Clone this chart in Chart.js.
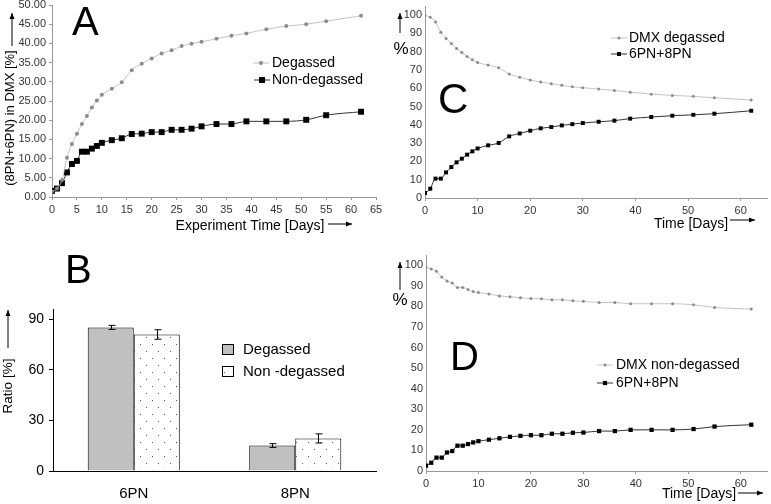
<!doctype html>
<html>
  <head>
    <script src="https://cdn.jsdelivr.net/npm/chart.js@4/dist/chart.umd.min.js"></script>
    <style>
      body { margin: 0; background: #fff; }
      canvas { position: absolute; }
    </style>
    <title>DMX degassing</title>
  </head>
  <body>
    <canvas id="chartA" width="390" height="250" style="left:0;top:0"></canvas>
    <canvas id="chartB" width="390" height="254" style="left:0;top:250px"></canvas>
    <canvas id="chartC" width="381" height="250" style="left:390px;top:0"></canvas>
    <canvas id="chartD" width="381" height="254" style="left:390px;top:250px"></canvas>

    <script>
      const days = [0, 1, 2, 3, 4, 5, 6, 7, 8, 9, 10, 12, 14, 16, 18, 20, 22, 24, 26, 28, 30, 33, 36, 39, 43, 47, 51, 55, 62]

      // panel A, (8PN+6PN) in DMX [%]
      const degassedA = [1.4, 2.2, 4.4, 10.2, 13.8, 16.5, 19.0, 21.1, 23.3, 25.1, 26.6, 28.2, 29.9, 33.0, 34.7, 36.1, 37.4, 38.2, 39.3, 39.9, 40.4, 41.2, 42.0, 42.6, 43.7, 44.5, 45.0, 45.8, 47.2]
      const nonDegassedA = [1.6, 2.2, 3.6, 6.4, 8.6, 9.4, 11.8, 11.8, 12.6, 13.3, 14.1, 14.8, 15.3, 16.4, 16.5, 16.9, 16.9, 17.5, 17.5, 17.8, 18.4, 19.0, 19.0, 19.7, 19.7, 19.7, 20.1, 21.3, 22.2]

      // panel C, degassed
      const dmxDegassed = [99.8, 98.9, 96.2, 90.7, 87.2, 84.5, 81.8, 79.6, 77.4, 75.6, 74.1, 72.7, 71.2, 67.8, 66.1, 64.5, 63.4, 62.5, 61.6, 60.8, 60.3, 59.6, 58.8, 57.9, 56.8, 56.1, 55.6, 54.8, 53.6]
      const pnDegassed = [2.7, 5.1, 10.6, 10.6, 14.0, 16.9, 19.5, 21.5, 23.7, 25.5, 27.1, 28.8, 30.1, 33.7, 35.3, 36.8, 38.1, 38.8, 39.7, 40.4, 41.0, 41.7, 42.3, 43.4, 44.3, 45.0, 45.5, 46.1, 47.7]

      // panel D, non-degassed
      const dmxNonDegassed = [98.9, 98.2, 97.1, 94.3, 92.4, 91.4, 89.2, 89.2, 88.2, 87.2, 86.8, 86.1, 85.1, 84.7, 84.2, 83.8, 83.7, 83.2, 83.2, 82.7, 82.5, 81.9, 81.9, 81.3, 81.3, 81.3, 80.8, 79.5, 78.7]
      const pnNonDegassed = [2.6, 4.0, 6.5, 6.5, 9.0, 9.7, 12.3, 12.3, 13.1, 13.9, 14.5, 15.2, 15.9, 16.6, 17.1, 17.4, 17.4, 18.1, 18.1, 18.6, 18.7, 19.4, 19.4, 20.0, 20.0, 20.0, 20.4, 21.6, 22.5]

      // panel B, ratio [%]
      const isomers = ['6PN', '8PN']
      const ratioDegassed = [85.1, 15.1]
      const ratioNonDegassed = [80.9, 19.3]
      const errDegassed = [1.2, 1.1]
      const errNonDegassed = [2.8, 2.7]

      const FONT = "'Liberation Sans', Arial, sans-serif"

      const pts = ys => days.map((d, i) => ({ x: d, y: ys[i] }))

      // pin the plot area inside each canvas so the four panels line up
      const box = (left, top, right, bottom) => ({
        padding: { left: 0, top, right, bottom: 0 },
        yFit: s => { s.width = left; s.paddingTop = 0; s.paddingBottom = 0 },
        xFit: s => { s.height = bottom; s.paddingLeft = 0; s.paddingRight = 0 }
      })

      const greySeries = (label, ys, r) => ({
        label, data: pts(ys),
        borderColor: '#c4c4c4', borderWidth: 1,
        pointStyle: 'circle', pointRadius: r, pointBackgroundColor: '#8c8c8c', pointBorderWidth: 0,
        cubicInterpolationMode: 'monotone'
      })

      const blackSeries = (label, ys, r) => ({
        label, data: pts(ys),
        borderColor: '#333', borderWidth: 1,
        pointStyle: 'rect', pointRadius: r, pointBackgroundColor: '#000', pointBorderWidth: 0,
        cubicInterpolationMode: 'monotone'
      })

      const drawArrow = (ctx, x1, y1, x2, y2) => {
        ctx.beginPath()
        ctx.moveTo(x1, y1)
        ctx.lineTo(x2, y2)
        ctx.stroke()
        const a = Math.atan2(y2 - y1, x2 - x1)
        ctx.beginPath()
        ctx.moveTo(x2, y2)
        ctx.lineTo(x2 - 6 * Math.cos(a) + 2.5 * Math.sin(a), y2 - 6 * Math.sin(a) - 2.5 * Math.cos(a))
        ctx.lineTo(x2 - 6 * Math.cos(a) - 2.5 * Math.sin(a), y2 - 6 * Math.sin(a) + 2.5 * Math.cos(a))
        ctx.closePath()
        ctx.fill()
      }

      // panel letters, axis titles with arrows, hand placed legends
      const notes = items => ({
        id: 'notes',
        afterDraw: chart => {
          const ctx = chart.ctx
          ctx.save()
          ctx.fillStyle = '#000'
          ctx.strokeStyle = '#000'
          ctx.lineWidth = 1
          items.forEach(it => {
            if (it.arrow) return drawArrow(ctx, ...it.arrow)
            if (it.series !== undefined) {
              const ds = chart.data.datasets[it.series]
              ctx.save()
              ctx.strokeStyle = ds.borderColor
              ctx.beginPath()
              ctx.moveTo(it.x - 8, it.y)
              ctx.lineTo(it.x + 8, it.y)
              ctx.stroke()
              ctx.fillStyle = ds.pointBackgroundColor
              ctx.beginPath()
              if (ds.pointStyle === 'rect') {
                const s = ds.pointRadius * Math.SQRT1_2
                ctx.rect(it.x - s, it.y - s, 2 * s, 2 * s)
              } else {
                ctx.arc(it.x, it.y, ds.pointRadius, 0, 2 * Math.PI)
              }
              ctx.fill()
              ctx.restore()
              return
            }
            if (it.swatch !== undefined) {
              const ds = chart.data.datasets[it.swatch]
              ctx.save()
              ctx.fillStyle = ds.backgroundColor
              ctx.fillRect(it.x, it.y, 11, 10)
              ctx.strokeRect(it.x + 0.5, it.y + 0.5, 11, 10)
              ctx.restore()
              return
            }
            ctx.save()
            ctx.font = it.size + 'px ' + FONT
            ctx.textAlign = it.align || 'left'
            ctx.textBaseline = 'middle'
            ctx.translate(it.x, it.y)
            if (it.rot) ctx.rotate(it.rot)
            ctx.fillText(it.t, 0, 0)
            ctx.restore()
          })
          ctx.restore()
        }
      })

      const lineOptions = (fit, ymax, ystep, yfmt, tickLen) => ({
        responsive: false,
        animation: false,
        layout: { padding: fit.padding },
        plugins: { legend: { display: false }, tooltip: { enabled: false } },
        scales: {
          x: {
            type: 'linear', min: 0, max: 65,
            afterFit: fit.xFit,
            border: { color: '#999' },
            grid: { drawOnChartArea: false, tickLength: 3, color: '#999' },
            ticks: { stepSize: yfmt ? 5 : 10, includeBounds: false, autoSkip: false, maxRotation: 0, padding: 3, color: '#333', font: { family: FONT, size: 11 } }
          },
          y: {
            min: 0, max: ymax,
            afterFit: fit.yFit,
            border: { color: '#999' },
            grid: { drawOnChartArea: false, tickLength: tickLen, color: '#999' },
            ticks: {
              stepSize: ystep, includeBounds: false, autoSkip: false, padding: 3, color: '#333',
              font: { family: FONT, size: 11 },
              callback: v => yfmt ? v.toFixed(2) : v
            }
          }
        }
      })

      // Panel A
      new Chart(document.getElementById('chartA'), {
        type: 'line',
        data: { datasets: [greySeries('Degassed', degassedA, 2), blackSeries('Non-degassed', nonDegassedA, 4.2)] },
        options: lineOptions(box(52, 5, 14, 53), 50, 5, true, 3),
        plugins: [notes([
          { t: 'A', x: 72, y: 24, size: 40 },
          { t: '(8PN+6PN) in DMX [%]', x: 10, y: 118, size: 13, rot: -Math.PI / 2, align: 'center' },
          { arrow: [12, 46, 12, 13] },
          { t: 'Experiment Time [Days]', x: 250, y: 226, size: 14, align: 'center' },
          { arrow: [328, 224, 352, 224] },
          { series: 0, x: 261, y: 63 },
          { t: 'Degassed', x: 272, y: 63, size: 14 },
          { series: 1, x: 262, y: 80 },
          { t: 'Non-degassed', x: 272, y: 80, size: 14 }
        ])]
      })

      // Panel C
      new Chart(document.getElementById('chartC'), {
        type: 'line',
        data: { datasets: [greySeries('DMX degassed', dmxDegassed, 1.5), blackSeries('6PN+8PN', pnDegassed, 2.8)] },
        options: lineOptions(box(35, 6, 3, 52), 105, 10, false, 0),
        plugins: [notes([
          { t: 'C', x: 48, y: 101, size: 42 },
          { t: '%', x: 11, y: 49, size: 17, align: 'center' },
          { arrow: [10, 33, 10, 13] },
          { t: 'Time [Days]', x: 301, y: 224, size: 14, align: 'center' },
          { arrow: [340, 220, 365, 220] },
          { series: 0, x: 229, y: 38 },
          { t: 'DMX degassed', x: 239, y: 38, size: 14 },
          { series: 1, x: 229, y: 54 },
          { t: '6PN+8PN', x: 239, y: 54, size: 14 }
        ])]
      })

      // Panel D
      new Chart(document.getElementById('chartD'), {
        type: 'line',
        data: { datasets: [greySeries('DMX non-degassed', dmxNonDegassed, 1.5), blackSeries('6PN+8PN', pnNonDegassed, 3)] },
        options: lineOptions(box(36, 5, 1, 33), 105, 10, false, 0),
        plugins: [notes([
          { t: 'D', x: 60, y: 109, size: 40 },
          { t: '%', x: 10, y: 50, size: 17, align: 'center' },
          { arrow: [10, 40, 10, 12] },
          { t: 'Time [Days]', x: 309, y: 244, size: 14, align: 'center' },
          { arrow: [348, 243, 373, 243] },
          { series: 0, x: 215, y: 115 },
          { t: 'DMX non-degassed', x: 226, y: 115, size: 14 },
          { series: 1, x: 215, y: 133 },
          { t: '6PN+8PN', x: 226, y: 133, size: 14 }
        ])]
      })

      // Panel B
      const dotTile = document.createElement('canvas')
      dotTile.width = 12
      dotTile.height = 14
      const tctx = dotTile.getContext('2d')
      tctx.fillStyle = '#fff'
      tctx.fillRect(0, 0, 12, 14)
      tctx.fillStyle = '#555'
      tctx.fillRect(2, 3, 1, 1)
      tctx.fillRect(8, 10, 1, 1)
      const dots = tctx.createPattern(dotTile, 'repeat')

      const errorBars = {
        id: 'errorBars',
        afterDatasetsDraw: chart => {
          const ctx = chart.ctx
          const y = chart.scales.y
          ctx.save()
          ctx.strokeStyle = '#000'
          ctx.lineWidth = 1
          chart.data.datasets.forEach((ds, i) => {
            chart.getDatasetMeta(i).data.forEach((bar, j) => {
              const top = y.getPixelForValue(ds.data[j] + ds.err[j])
              const bot = y.getPixelForValue(ds.data[j] - ds.err[j])
              const x = Math.round(bar.x) + 0.5
              ctx.beginPath()
              ctx.moveTo(x, top)
              ctx.lineTo(x, bot)
              ctx.moveTo(x - 3, top)
              ctx.lineTo(x + 4, top)
              ctx.moveTo(x - 3, bot)
              ctx.lineTo(x + 4, bot)
              ctx.stroke()
            })
          })
          ctx.restore()
        }
      }

      const fitB = box(53, 59, 14, 33)
      new Chart(document.getElementById('chartB'), {
        type: 'bar',
        data: {
          labels: isomers,
          datasets: [
            { label: 'Degassed', data: ratioDegassed, err: errDegassed, backgroundColor: '#c0c0c0', borderColor: '#000', borderWidth: 1, categoryPercentage: 0.57, barPercentage: 1 },
            { label: 'Non -degassed', data: ratioNonDegassed, err: errNonDegassed, backgroundColor: dots, borderColor: '#000', borderWidth: 1, categoryPercentage: 0.57, barPercentage: 1 }
          ]
        },
        options: {
          responsive: false,
          animation: false,
          layout: { padding: fitB.padding },
          plugins: { legend: { display: false }, tooltip: { enabled: false } },
          scales: {
            x: {
              afterFit: fitB.xFit,
              border: { color: '#000' },
              grid: { display: false },
              ticks: { padding: 6, color: '#000', font: { family: FONT, size: 15 } }
            },
            y: {
              min: 0, max: 96,
              afterFit: fitB.yFit,
              border: { color: '#000' },
              grid: { drawOnChartArea: false, tickLength: 4, color: '#000' },
              ticks: { stepSize: 30, includeBounds: false, padding: 5, color: '#000', font: { family: FONT, size: 14 } }
            }
          }
        },
        plugins: [errorBars, notes([
          { t: 'B', x: 65, y: 22, size: 40 },
          { t: 'Ratio [%]', x: 8, y: 136, size: 13.5, rot: -Math.PI / 2, align: 'center' },
          { arrow: [8, 98, 8, 60] },
          { swatch: 0, x: 222, y: 94 },
          { t: 'Degassed', x: 243, y: 100, size: 15 },
          { swatch: 1, x: 222, y: 116 },
          { t: 'Non -degassed', x: 243, y: 122, size: 15 }
        ])]
      })
    </script>
  </body>
</html>
